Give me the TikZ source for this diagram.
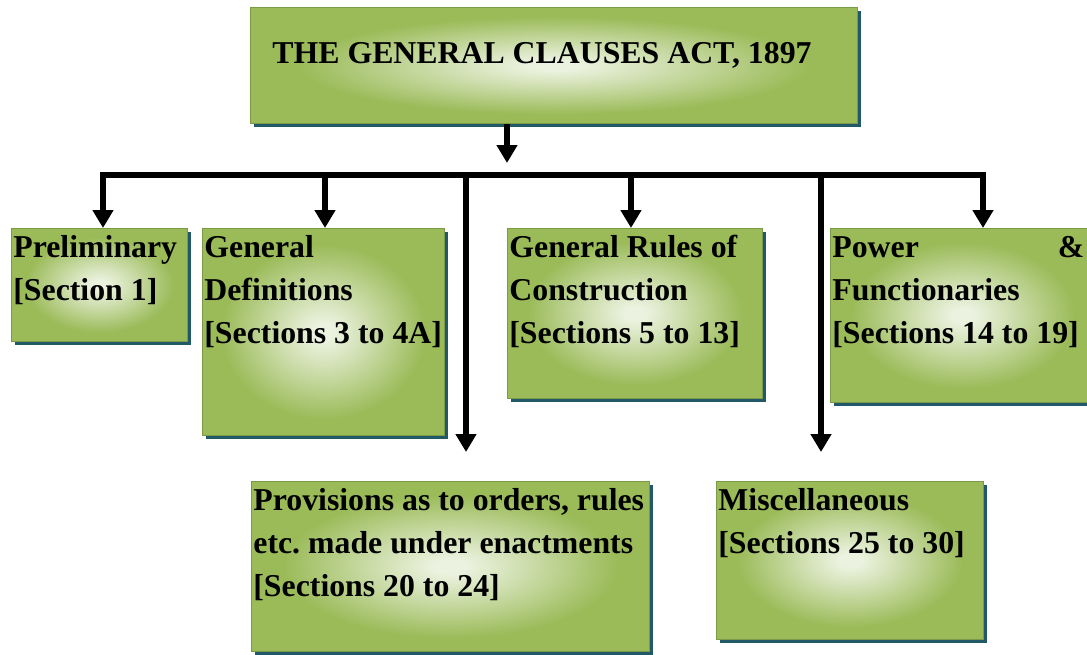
\documentclass[tikz,border=0pt]{standalone}
\usepackage{fontspec}
\setmainfont{Liberation Serif}
\usetikzlibrary{arrows.meta,shadows}
\definecolor{glowout}{HTML}{9BBB59}
\definecolor{glowmid}{HTML}{CFDFB0}
\definecolor{glowin}{HTML}{ECF2E0}
\definecolor{shadowc}{HTML}{215968}
\definecolor{borderc}{HTML}{7A9A48}
\pgfdeclareradialshading{glow}{\pgfpoint{0bp}{0bp}}{color(0bp)=(glowin); color(2bp)=(glowin); color(9bp)=(glowmid); color(21bp)=(glowout); color(50bp)=(glowout)}
\newcommand\bxtext[3]{\parbox[c][#2pt][t]{#1pt}{\raggedright\rule{0pt}{29pt}#3}}
\begin{document}
\begin{tikzpicture}[x=1pt,y=-1pt,
  box/.style={draw=borderc, line width=0.8pt, shade, shading=glow,
    inner xsep=2pt, inner ysep=0pt, anchor=north west,
    drop shadow={shadow xshift=4pt, shadow yshift=-4pt, fill=shadowc, opacity=1},
    font=\bfseries\fontsize{31.8pt}{43pt}\selectfont},
  conn/.style={line width=6.5pt, draw=black},
  arr/.style={conn, -{Triangle[width=20pt,length=18pt]}},
  busline/.style={conn, line cap=rect}]
\path[use as bounding box, clip] (0,0) rectangle (1087,654);
% boxes
\node[box] (title) at (250,7) {\parbox[c][116pt][t]{603pt}{\hspace*{20pt}\rule{0pt}{56pt}THE GENERAL CLAUSES ACT, 1897}};
\node[box] (prelim) at (11,228) {\bxtext{172}{113}{Preliminary\\{[}Section 1{]}}};
\node[box] (gendef) at (202,228) {\bxtext{238}{207}{General\\Definitions\\{[}Sections 3 to 4A{]}}};
\node[box] (genrules) at (507,228) {\bxtext{251}{170}{General Rules of\\Construction\\{[}Sections 5 to 13{]}}};
\node[box] (power) at (830,228) {\bxtext{261}{174}{\hbox to 252pt{Power\hfill\&}\\Functionaries\\{[}Sections 14 to 19{]}}};
\node[box] (prov) at (251,481) {\bxtext{394}{170}{Provisions as to orders, rules\\etc.\ made under enactments\\{[}Sections 20 to 24{]}}};
\node[box] (misc) at (716,481) {\bxtext{263}{158}{Miscellaneous\\{[}Sections 25 to 30{]}}};
% connector coordinates
\coordinate (sx) at (507,0);
\coordinate (stemend) at (507,163);
\coordinate (b1) at (103,175);
\coordinate (b2) at (325,175);
\coordinate (b3) at (466,175);
\coordinate (b4) at (631,175);
\coordinate (b5) at (821,175);
\coordinate (b6) at (983,175);
\coordinate (l1) at (466,452);
\coordinate (l2) at (821,452);
% connectors
\draw[arr] (title.south -| sx) -- (stemend);
\draw[busline] (b1) -- (b6);
\draw[arr] (b1) -- (prelim.north -| b1);
\draw[arr] (b2) -- (gendef.north -| b2);
\draw[arr] (b4) -- (genrules.north -| b4);
\draw[arr] (b6) -- (power.north -| b6);
\draw[arr] (b3) -- (l1);
\draw[arr] (b5) -- (l2);
\end{tikzpicture}
\end{document}
